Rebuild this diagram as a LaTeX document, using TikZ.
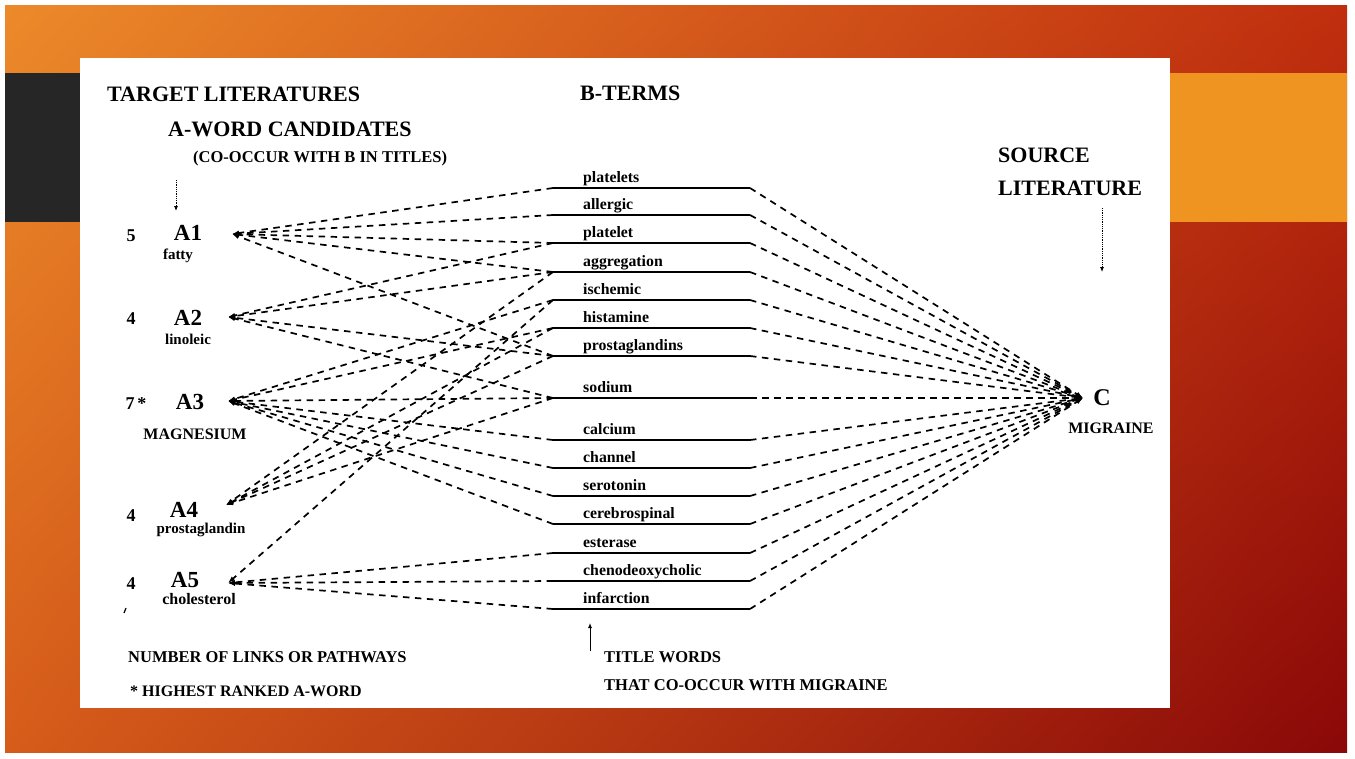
\documentclass[tikz,border=0pt]{standalone}
\usepackage{fontspec}
\setmainfont{Liberation Serif}
\usetikzlibrary{
  arrows.meta,
  shadings
}
\definecolor{slidedark}{RGB}{38,38,38}
\definecolor{slidebar}{RGB}{239,148,32}
\definecolor{gradtl}{RGB}{236,138,42}
\definecolor{gradtr}{RGB}{192,46,14}
\definecolor{gradbl}{RGB}{214,92,26}
\definecolor{gradbr}{RGB}{138,8,8}
\tikzset{
  heading/.style={
    font=\fontsize{22}{24}\selectfont\bfseries,
    anchor=base west, inner sep=0pt
  },
  caption/.style={
    font=\fontsize{16.5}{18}\selectfont\bfseries,
    anchor=base west, inner sep=0pt
  },
  aword/.style={font=\fontsize{23}{25}\selectfont\bfseries, inner sep=0pt},
  linkcount/.style={font=\fontsize{18}{20}\selectfont\bfseries, inner sep=0pt},
  aname/.style={font=\fontsize{15}{17}\selectfont\bfseries, inner sep=0pt},
  bterm/.style={
    font=\fontsize{15.8}{17}\selectfont\bfseries,
    anchor=base west, inner sep=0pt
  },
  bline/.style={line width=1.8pt},
  linkdash/.style={
    line width=1.7pt,
    dash pattern=on 6.5pt off 5.5pt
  },
  aedge/.style={linkdash, -{Latex[length=7pt,width=5pt]}},
  cedge/.style={linkdash, -{Latex[length=7pt,width=5pt]}},
  pointer/.style={line width=0.8pt, densely dotted, -{Latex[length=5pt,width=4pt]}}
}

\begin{document}
\begin{tikzpicture}[x=1pt,y=-1pt]
\useasboundingbox (0,0) rectangle (1355,758);
% slide background
\fill[white] (0,0) rectangle (1355,758);
\shade[upper left=gradtl, upper right=gradtr, lower left=gradbl,
  lower right=gradbr] (5,5) rectangle (1347,752);
\fill[slidedark] (5,73) rectangle (80,222);
\fill[slidebar] (1170,73) rectangle (1347,222);
\fill[white] (80,58) rectangle (1170,708);

% headings
\node[heading] (target) at (107,101) {TARGET LITERATURES};
\node[heading] (candidates) at (168,136) {A-WORD CANDIDATES};
\node[caption] (cooccur) at (193,162) {(CO-OCCUR WITH B IN TITLES)};
\node[heading] (bterms) at (580,100) {B-TERMS};
\node[heading] (source) at (998,162) {SOURCE};
\node[heading] (sourcelit) at (998,195) {LITERATURE};

% A-words
\node[linkcount] (n1) at (131,236) {5};
\node[aword] (a1) at (188,233) {A1};
\node[aname] (a1name) at (178,256) {fatty};
\node[linkcount] (n2) at (131,319) {4};
\node[aword] (a2) at (188,318) {A2};
\node[aname] (a2name) at (188,339) {linoleic};
\node[linkcount] (n3) at (136,404) {7\,*};
\node[aword] (a3) at (190,402) {A3};
\node[aname, font=\fontsize{16}{18}\selectfont\bfseries] (a3name) at (195,434) {MAGNESIUM};
\node[linkcount] (n4) at (131,516) {4};
\node[aword] (a4) at (184,510) {A4};
\node[aname] (a4name) at (201,530) {prostaglandin};
\node[linkcount] (n5) at (131,584) {4};
\node[aword] (a5) at (185,580) {A5};
\node[aname, font=\fontsize{16}{18}\selectfont\bfseries] (a5name) at (199,599) {cholesterol};
\coordinate (a1-tip) at (232,234);
\coordinate (a2-tip) at (228,317);
\coordinate (a3-tip) at (228,401);
\coordinate (a4-tip) at (226,505);
\coordinate (a5-tip) at (228,583);

% C
\node[aword, font=\fontsize{24}{26}\selectfont\bfseries] (c) at (1102,398) {C};
\node[aname, font=\fontsize{16}{18}\selectfont\bfseries] (cname) at (1111,428) {MIGRAINE};
\coordinate (c-tip) at (1083,398);

% B-terms
\foreach \i/\y/\word in {1/188/platelets, 2/215/allergic, 3/243/platelet,
  4/272/aggregation, 5/300/ischemic, 6/328/histamine, 7/356/prostaglandins,
  8/398/sodium, 9/440/calcium, 10/468/channel, 11/496/serotonin,
  12/524/cerebrospinal, 13/553/esterase, 14/581/chenodeoxycholic,
  15/609/infarction}{
  \coordinate (bl\i) at (553,\y);
  \coordinate (br\i) at (750,\y);
  \node[bterm] (bt\i) at (583,\y-6) {\word};
  \draw[bline] (bl\i) -- (br\i);
}

% links A <- B
\foreach \a/\blist in {1/{1,2,3,4,7}, 2/{3,4,7,8}, 3/{5,6,8,9,10,11,12},
  4/{4,6,7,8}, 5/{5,13,14,15}}
  \foreach \b in \blist
    \draw[aedge] (bl\b) -- (a\a-tip);

% links B -> C
\foreach \i in {1,...,15}
  \draw[cedge] (br\i) -- (c-tip);

% pointers
\coordinate (ptop) at (176,180);
\coordinate (pbot) at (176,211);
\draw[pointer] (ptop) -- (pbot);
\coordinate (stop) at (1102,208);
\coordinate (sbot) at (1102,272);
\draw[pointer] (stop) -- (sbot);
\coordinate (tbot) at (590,651);
\coordinate (ttop) at (590,623);
\draw[line width=0.9pt, -{Latex[length=5pt,width=4pt]}] (tbot) -- (ttop);
\coordinate (mark1) at (124,613);
\coordinate (mark2) at (126,608);
\draw[line width=1.2pt] (mark1) -- (mark2);

% legend
\node[caption] (legend1) at (128,662) {NUMBER OF LINKS OR PATHWAYS};
\node[caption, font=\fontsize{16}{18}\selectfont\bfseries] (legend2) at (130,696) {* HIGHEST RANKED A-WORD};
\node[caption] (title1) at (604,662) {TITLE WORDS};
\node[caption] (title2) at (604,690) {THAT CO-OCCUR WITH MIGRAINE};
\end{tikzpicture}
\end{document}
